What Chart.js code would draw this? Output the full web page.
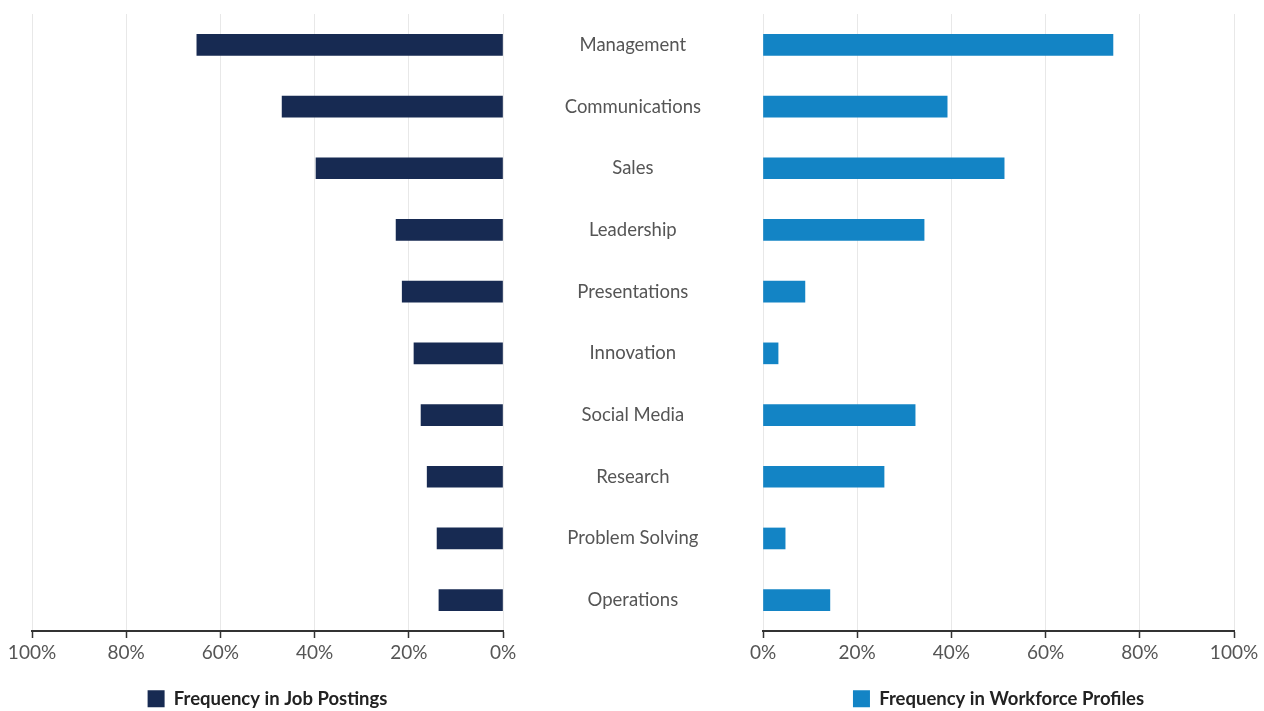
<!DOCTYPE html>
<html>
<head>
<meta charset="utf-8">
<script src="https://cdn.jsdelivr.net/npm/chart.js@4.4.0/dist/chart.umd.min.js"></script>
<style>
  html, body { margin: 0; padding: 0; background: #fff; overflow: hidden; }
  #wrap { position: relative; width: 1264px; height: 711px; overflow: hidden; }
  #left { position: absolute; left: 0; top: 0; }
  #right { position: absolute; left: 560px; top: 0; }
</style>
</head>
<body>
<div id="wrap">
  <canvas id="left" width="560" height="718"></canvas>
  <canvas id="right" width="704" height="718"></canvas>
</div>
<script>
const skills = ['Management', 'Communications', 'Sales', 'Leadership', 'Presentations',
  'Innovation', 'Social Media', 'Research', 'Problem Solving', 'Operations'];
const jobPostings = [65.0, 46.9, 39.7, 22.7, 21.4, 18.9, 17.4, 16.1, 14.0, 13.6];
const workforceProfiles = [74.3, 39.1, 51.2, 34.2, 8.9, 3.2, 32.3, 25.7, 4.7, 14.2];
const tickStep = 20; // 0% .. 100%

const fontFamily = 'Lato, "Open Sans", sans-serif';
const textGray = '#555';
const legendSize = 18.5;

// x axis shared by both halves, left one runs backwards
// axisHeight keeps the axis line at the same y whatever the legend padding is
function percentAxis(reverse, axisHeight) {
  return {
    reverse: reverse,
    min: 0,
    max: 100,
    ticks: {
      stepSize: tickStep,
      padding: 3,
      color: textGray,
      font: { family: fontFamily, size: 19 },
      callback: v => v + '%'
    },
    grid: {
      color: '#e8e8e8',
      tickColor: '#333',
      tickLength: 7,
      tickWidth: 1.5
    },
    border: { display: true, color: '#333', width: 2 },
    afterFit: scale => { scale.height = axisHeight; }
  };
}

function legendOpts(pad) {
  return {
    position: 'bottom',
    fullSize: false,
    labels: {
      boxWidth: 17,
      boxHeight: 17,
      padding: pad,
      color: '#222',
      font: { family: fontFamily, size: legendSize, weight: 'bold' }
    }
  };
}

new Chart(document.getElementById('left'), {
  type: 'bar',
  data: {
    labels: skills,
    datasets: [{
      label: 'Frequency in Job Postings',
      data: jobPostings,
      backgroundColor: '#172a52',
      barThickness: 21
    }]
  },
  options: {
    indexAxis: 'y',
    responsive: false,
    animation: false,
    devicePixelRatio: 1,
    layout: { padding: { left: 32, right: 57, top: 14, bottom: 0 } },
    scales: {
      x: percentAxis(true, 58.5),
      y: { display: false }
    },
    plugins: {
      legend: legendOpts(0),
      tooltip: { enabled: false }
    }
  }
});

// skill names sit in the gap, as the y axis of the right half
new Chart(document.getElementById('right'), {
  type: 'bar',
  data: {
    labels: skills,
    datasets: [{
      label: 'Frequency in Workforce Profiles',
      data: workforceProfiles,
      backgroundColor: '#1384c5',
      barThickness: 21
    }]
  },
  options: {
    indexAxis: 'y',
    responsive: false,
    animation: false,
    devicePixelRatio: 1,
    layout: { padding: { left: 0, right: 30, top: 14, bottom: 0 } },
    scales: {
      x: percentAxis(false, 48.5),
      y: {
        position: 'left',
        grid: { display: false, drawTicks: true, tickLength: 62 },
        border: { display: false },
        ticks: {
          crossAlign: 'center',
          padding: 0,
          color: textGray,
          font: { family: fontFamily, size: 18.5 }
        },
        afterFit: scale => { scale.width = 203; }
      }
    },
    plugins: {
      legend: legendOpts(10),
      tooltip: { enabled: false }
    }
  }
});
</script>
</body>
</html>
